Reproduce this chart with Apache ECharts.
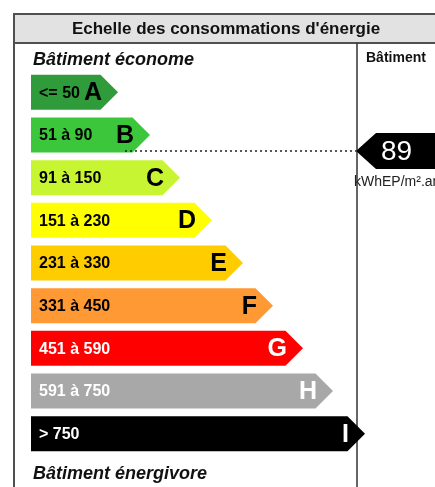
<!DOCTYPE html>
<html>
<head>
<meta charset="utf-8">
<script src="https://cdn.jsdelivr.net/npm/echarts@6/dist/echarts.min.js"></script>
<style>
  html, body { margin: 0; padding: 0; background: #fff; }
  #chart { width: 435px; height: 487px; }
</style>
</head>
<body>
<div id="chart"></div>
<script>
// classes energie, du plus econome au plus energivore
const classes = ['A', 'B', 'C', 'D', 'E', 'F', 'G', 'H', 'I'];
const ranges = ['<= 50', '51 à 90', '91 à 150', '151 à 230', '231 à 330', '331 à 450', '451 à 590', '591 à 750', '> 750'];
const barLengths = [87, 119, 149, 181, 212, 242, 272, 302, 334];
const classColors = ['#2f9b3b', '#3cc63c', '#c8f532', '#ffff00', '#ffcc00', '#ff9933', '#ff0000', '#a8a8a8', '#000000'];
const textColors = ['#000', '#000', '#000', '#000', '#000', '#000', '#fff', '#fff', '#fff'];

// consommation du batiment
const consumption = 89;
const consumptionClass = 'B';
const unit = 'kWhEP/m².an';

const FONT = '"Liberation Sans", Arial, sans-serif';

const chart = echarts.init(document.getElementById('chart'));

function renderArrow(params, api) {
  const i = params.dataIndex;
  const start = api.coord([0, api.value(1)]);
  const end = api.coord([api.value(0), api.value(1)]);
  const h = 35, d = h / 2;
  const y = start[1];
  return {
    type: 'group',
    children: [
      {
        type: 'polygon',
        shape: { points: [[start[0], y - d], [end[0] - d, y - d], [end[0], y], [end[0] - d, y + d], [start[0], y + d]] },
        style: { fill: classColors[i] }
      },
      {
        type: 'text', x: start[0] + 8, y: y + 1,
        style: { text: ranges[i], fill: textColors[i], font: 'bold 16px ' + FONT, align: 'left', verticalAlign: 'middle' }
      },
      {
        type: 'text', x: end[0] - 16, y: y + 1,
        style: { text: classes[i], fill: textColors[i], font: 'bold 25px ' + FONT, align: 'right', verticalAlign: 'middle' }
      }
    ]
  };
}

function renderMarker(params, api) {
  const c = api.coord([0, api.value(1)]);
  const y = c[1] + 16;
  const tip = 356, d = 18;
  return {
    type: 'group',
    children: [
      {
        type: 'line',
        shape: { x1: 125, y1: y, x2: tip, y2: y },
        style: { stroke: '#222', lineWidth: 1.5, lineDash: [2, 3] }
      },
      {
        type: 'polygon',
        shape: { points: [[tip, y], [tip + 20, y - d], [440, y - d], [440, y + d], [tip + 20, y + d]] },
        style: { fill: '#000' }
      },
      {
        type: 'text', x: 381, y: y + 1,
        style: { text: String(api.value(0)), fill: '#fff', font: '28px ' + FONT, align: 'left', verticalAlign: 'middle' }
      },
      {
        type: 'text', x: 354, y: y + 31,
        style: { text: unit, fill: '#222', font: '14px ' + FONT, align: 'left', verticalAlign: 'middle' }
      }
    ]
  };
}

chart.setOption({
  animation: false,
  grid: { left: 31, right: 0, top: 71, bottom: 32 },
  xAxis: { type: 'value', min: 0, max: 404, show: false },
  yAxis: { type: 'category', data: classes, inverse: true, show: false },
  graphic: [
    {
      type: 'rect', shape: { x: 14, y: 14, width: 430, height: 29 },
      style: { fill: '#e2e2e2', stroke: '#505050', lineWidth: 2 }
    },
    { type: 'line', shape: { x1: 14, y1: 14, x2: 14, y2: 490 }, style: { stroke: '#505050', lineWidth: 2 } },
    { type: 'line', shape: { x1: 357, y1: 43, x2: 357, y2: 490 }, style: { stroke: '#333', lineWidth: 1.5 } },
    {
      type: 'text', x: 226, y: 29,
      style: { text: "Echelle des consommations d'énergie", fill: '#111', font: 'bold 17px ' + FONT, align: 'center', verticalAlign: 'middle' }
    },
    {
      type: 'text', x: 33, y: 60,
      style: { text: 'Bâtiment économe', fill: '#111', font: 'italic bold 18px ' + FONT, align: 'left', verticalAlign: 'middle' }
    },
    {
      type: 'text', x: 366, y: 58,
      style: { text: 'Bâtiment', fill: '#111', font: 'bold 14px ' + FONT, align: 'left', verticalAlign: 'middle' }
    },
    {
      type: 'text', x: 33, y: 474,
      style: { text: 'Bâtiment énergivore', fill: '#111', font: 'italic bold 18px ' + FONT, align: 'left', verticalAlign: 'middle' }
    }
  ],
  series: [
    {
      type: 'custom',
      renderItem: renderArrow,
      encode: { x: 0, y: 1 },
      data: barLengths.map((v, i) => [v, classes[i]])
    },
    {
      type: 'custom',
      renderItem: renderMarker,
      encode: { x: 0, y: 1 },
      data: [[consumption, consumptionClass]]
    }
  ]
});
</script>
</body>
</html>
